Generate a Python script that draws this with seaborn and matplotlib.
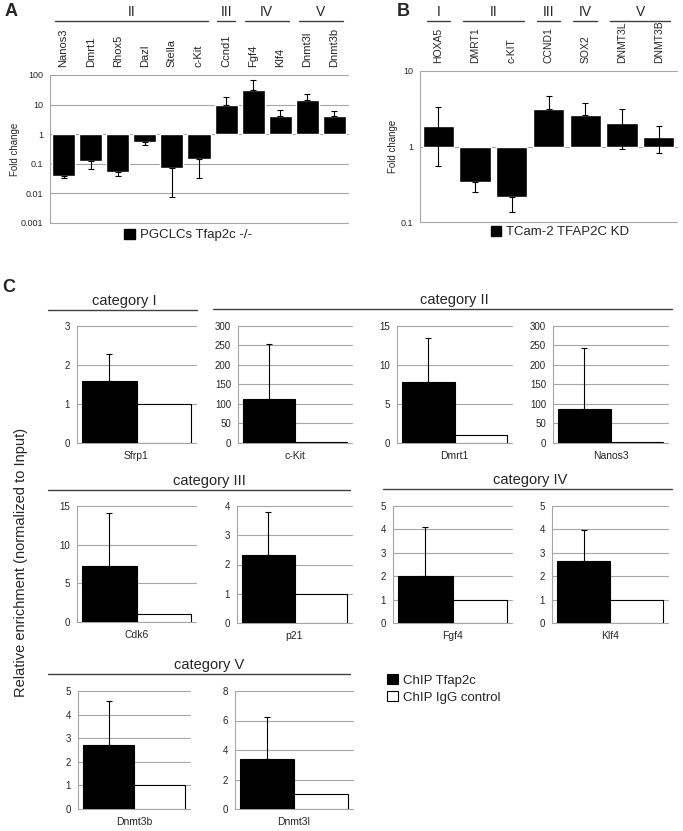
import matplotlib
matplotlib.use('Agg')
import matplotlib.pyplot as plt
from matplotlib.patches import Patch
from matplotlib.ticker import NullLocator
from matplotlib.transforms import blended_transform_factory
import numpy as np
import pandas as pd
import seaborn as sns

# ---- panel A: PGCLCs Tfap2c -/- (fold change, log scale) ----
a_genes = ['Nanos3', 'Dmrt1', 'Rhox5', 'Dazl', 'Stella', 'c-Kit',
           'Ccnd1', 'Fgf4', 'Klf4', 'Dnmt3l', 'Dnmt3b']
a_fold = [0.038, 0.125, 0.053, 0.55, 0.073, 0.148, 10.0, 30.0, 4.0, 14.0, 4.1]
a_err_tip = [0.032, 0.066, 0.039, 0.42, 0.0074, 0.034, 18.0, 70.0, 6.4, 22.0, 6.0]
a_groups = ['II', 'III', 'IV', 'V']
a_group_idx = [(0, 5), (6, 6), (7, 8), (9, 10)]
a_series = 'PGCLCs Tfap2c -/-'

# ---- panel B: TCam-2 TFAP2C KD ----
b_genes = ['HOXA5', 'DMRT1', 'c-KIT', 'CCND1', 'SOX2', 'DNMT3L', 'DNMT3B']
b_fold = [1.86, 0.334, 0.213, 3.1, 2.6, 2.03, 1.35]
b_err_lo = [0.56, 0.246, 0.137, 3.1, 2.6, 0.92, 0.82]
b_err_hi = [3.3, 0.334, 0.213, 4.7, 3.8, 3.1, 1.86]
b_groups = ['I', 'II', 'III', 'IV', 'V']
b_group_idx = [(0, 0), (1, 2), (3, 3), (4, 4), (5, 6)]
b_series = 'TCam-2 TFAP2C KD'

# ---- panel C: ChIP enrichment ----
c_genes = ['Sfrp1', 'c-Kit', 'Dmrt1', 'Nanos3', 'Cdk6', 'p21',
           'Fgf4', 'Klf4', 'Dnmt3b', 'Dnmt3l']
c_tfap2c = [1.58, 114, 7.8, 86, 7.2, 2.32, 1.99, 2.67, 2.71, 3.37]
c_tfap2c_err = [2.27, 255, 13.4, 244, 14.1, 3.78, 4.09, 3.98, 4.56, 6.25]
c_igg = [1.0, 2.0, 1.0, 2.0, 1.0, 1.0, 1.0, 1.0, 1.0, 1.0]
c_series = ['ChIP Tfap2c', 'ChIP IgG control']
c_categories = ['category I', 'category II', 'category III', 'category IV', 'category V']

# layout (pixels of the 683x831 canvas)
W, H = 683, 831
c_boxes = [(77, 326, 196, 443), (238, 326, 352, 443), (397, 326, 512, 443), (553, 326, 668, 443),
           (77, 506, 196, 622), (237, 506, 352, 623), (393, 506, 512, 623), (552, 506, 668, 623),
           (78, 691, 190, 809), (235, 691, 353, 809)]
c_ylim = [(3, 1), (300, 50), (15, 5), (300, 50), (15, 5), (4, 1), (5, 1), (5, 1), (5, 1), (8, 2)]
# (x0, x1, y of line, text center x)
c_headers = [(48, 197, 310, 124), (213, 672, 309, 454), (48, 350, 490, 209),
             (383, 672, 489, 530), (48, 350, 674, 209)]

GRID = '#a6a6a6'
LINE = '#404040'

sns.set_style('white')
plt.rcParams['font.family'] = ['Liberation Sans', 'DejaVu Sans']

fig = plt.figure(figsize=(W / 100, H / 100), dpi=100)


def box(x0, y0, x1, y1):
    return [x0 / W, 1 - y1 / H, (x1 - x0) / W, (y1 - y0) / H]


def fx(px):
    return px / W


def fy(py):
    return 1 - py / H


def style_axes(ax):
    ax.spines['top'].set_visible(False)
    ax.spines['right'].set_visible(False)
    ax.spines['left'].set_color(GRID)
    ax.spines['bottom'].set_color(GRID)
    ax.yaxis.grid(True, color=GRID, lw=0.8)
    ax.set_axisbelow(True)
    ax.tick_params(axis='y', length=3, color=GRID, width=0.8, pad=2)
    for ln in ax.get_ygridlines():
        ln.set_clip_on(False)


def fold_panel(rect, genes, fold, lo, hi, ylim, groups, group_idx, series,
               line_y, label_size, label_pad, legend_xy):
    ax = fig.add_axes(rect)
    x = np.arange(len(genes))
    fold = np.array(fold)
    ax.set_yscale('log')
    ax.bar(x, fold - 1, bottom=1, width=0.85, color='black', zorder=2)
    ax.errorbar(x, fold, yerr=[fold - np.array(lo), np.array(hi) - fold], fmt='none',
                ecolor='black', elinewidth=0.8, capsize=2, capthick=0.8, zorder=3)
    ax.set_ylim(*ylim)
    ax.set_xlim(-0.5, len(genes) - 0.5)
    ticks = [10.0 ** k for k in range(int(np.log10(ylim[0])), int(np.log10(ylim[1])) + 1)]
    ax.set_yticks(ticks)
    ax.set_yticklabels(['%g' % t for t in ticks], fontsize=6.5)
    ax.yaxis.set_minor_locator(NullLocator())
    style_axes(ax)
    ax.spines['bottom'].set_visible(False)
    ax.set_xticks(x)
    ax.set_xticklabels(genes, rotation=90, fontsize=label_size)
    ax.tick_params(axis='x', bottom=False, top=False, labelbottom=False,
                   labeltop=True, pad=label_pad)
    trans = blended_transform_factory(ax.transData, fig.transFigure)
    for name, (s, e) in zip(groups, group_idx):
        ax.plot([s - 0.32, e + 0.32], [fy(line_y)] * 2, transform=trans,
                color=LINE, lw=1, clip_on=False)
        ax.text((s + e) / 2, fy(line_y - 2), name, transform=trans,
                ha='center', va='bottom', fontsize=10)
    fig.legend(handles=[Patch(facecolor='black', edgecolor='black')], labels=[series],
               loc='center', bbox_to_anchor=legend_xy, frameon=False, fontsize=9.5,
               handlelength=0.8, handleheight=0.8, handletextpad=0.4,
               borderpad=0, borderaxespad=0)
    return ax


fold_panel(box(50, 75, 348, 223), a_genes, a_fold,
           [t if f < 1 else f for f, t in zip(a_fold, a_err_tip)],
           [t if f > 1 else f for f, t in zip(a_fold, a_err_tip)],
           (0.001, 100), a_groups, a_group_idx, a_series, 21, 8, 2.5,
           (fx(188), fy(235)))
fig.text(fx(15), fy(149), 'Fold change', rotation=90, ha='center', va='center', fontsize=7)

fold_panel(box(420, 71, 677, 222), b_genes, b_fold, b_err_lo, b_err_hi,
           (0.1, 10), b_groups, b_group_idx, b_series, 21, 7.5, 2.5,
           (fx(560), fy(232)))
fig.text(fx(393), fy(146), 'Fold change', rotation=90, ha='center', va='center', fontsize=7)

# ---- panel C ----
palette = ['black', 'white']
for i, g in enumerate(c_genes):
    ax = fig.add_axes(box(*c_boxes[i]))
    df = pd.DataFrame({'gene': [g, g], 'sample': c_series,
                       'value': [c_tfap2c[i], c_igg[i]]})
    sns.barplot(data=df, x='gene', y='value', hue='sample', hue_order=c_series,
                palette=palette, saturation=1, width=0.6, edgecolor='black',
                linewidth=0.8, legend=False, ax=ax)
    ax.errorbar(-0.15, c_tfap2c[i], yerr=[[0], [c_tfap2c_err[i] - c_tfap2c[i]]],
                fmt='none', ecolor='black', elinewidth=0.8, capsize=2, capthick=0.8)
    ymax, step = c_ylim[i]
    ax.set_ylim(0, ymax)
    ax.set_yticks(np.arange(0, ymax + step / 2, step))
    ax.tick_params(axis='y', labelsize=7)
    style_axes(ax)
    ax.spines['bottom'].set_visible(False)
    ax.set_xlabel('')
    ax.set_ylabel('')
    ax.tick_params(axis='x', length=0, labelsize=7.5, pad=6)

for name, (x0, x1, ly, tx) in zip(c_categories, c_headers):
    fig.add_artist(plt.Line2D([fx(x0), fx(x1)], [fy(ly), fy(ly)], color=LINE, lw=1))
    fig.text(fx(tx), fy(ly - 2), name, ha='center', va='bottom', fontsize=10.5)

fig.text(fx(21), fy(562), 'Relative enrichment (normalized to Input)', rotation=90,
         ha='center', va='center', fontsize=10.5)

fig.legend(handles=[Patch(facecolor=c, edgecolor='black', lw=0.8) for c in palette],
           labels=c_series, loc='upper left', bbox_to_anchor=(fx(387), fy(674)),
           frameon=False, fontsize=9.5, handlelength=0.8, handleheight=0.8,
           handletextpad=0.4, labelspacing=0.35, borderpad=0, borderaxespad=0)

# panel letters
fig.text(fx(5), fy(12), 'A', fontsize=13, fontweight='bold', va='center')
fig.text(fx(397), fy(11), 'B', fontsize=13, fontweight='bold', va='center')
fig.text(fx(2), fy(287), 'C', fontsize=13, fontweight='bold', va='center')

fig.savefig('out.png', dpi=100)
